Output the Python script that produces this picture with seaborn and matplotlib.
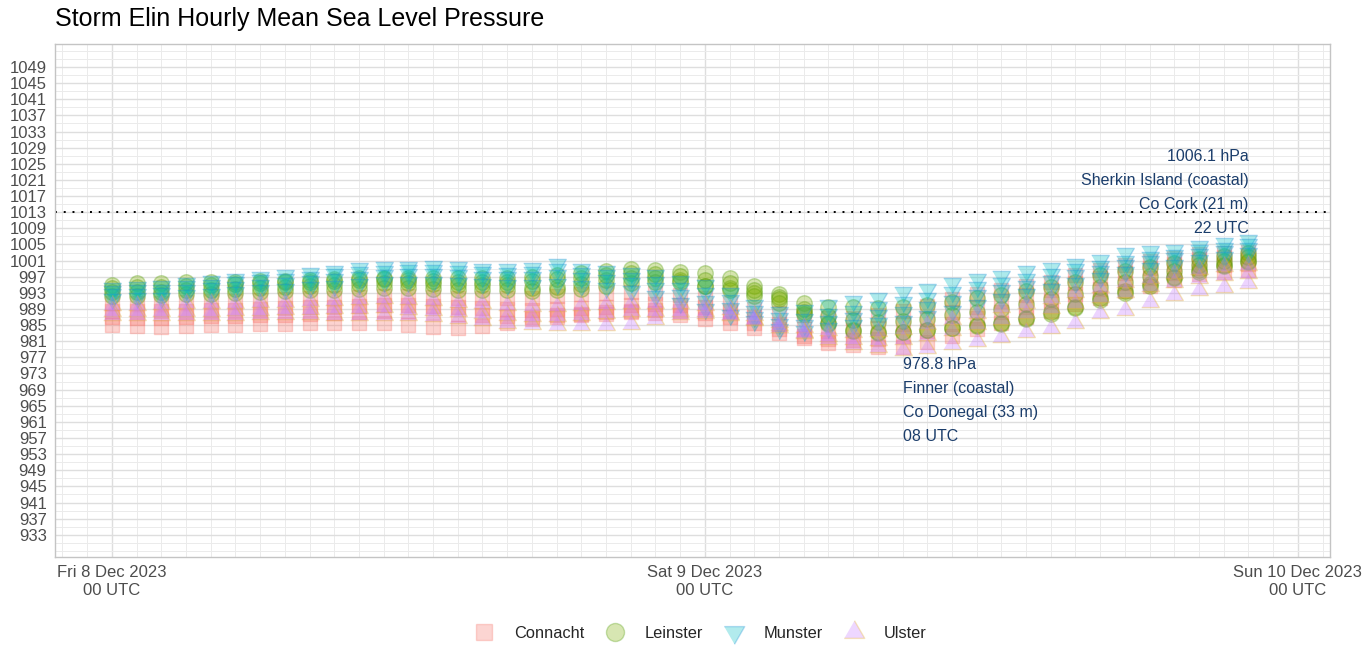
import numpy as np
import pandas as pd
import seaborn as sns
import matplotlib.pyplot as plt
from matplotlib.lines import Line2D

# Hourly readings: Fri 8 Dec 2023 00 UTC -> Sat 9 Dec 2023 22 UTC
hours = pd.date_range('2023-12-08 00:00', periods=47, freq='h')

# Mean sea level pressure (hPa), one list per station
# Connacht
mace_head = [990.5, 990.6, 990.6, 990.8, 991.0, 991.0, 991.2, 991.4, 991.6, 991.8, 992.0, 992.2,
             992.2, 992.0, 991.8, 991.6, 991.6, 991.8, 992.2, 992.6, 993.0, 993.2, 993.0, 992.4,
             991.8, 990.6, 989.0, 988.0, 987.6, 986.8, 986.8, 987.6, 988.4, 989.8, 991.4, 992.6,
             993.6, 994.6, 995.8, 997.4, 998.6, 999.8, 1000.8, 1001.6, 1002.6, 1003.0, 1003.2]
belmullet = [988.5, 988.4, 988.4, 988.6, 988.8, 988.8, 989.0, 989.2, 989.4, 989.6, 989.8, 990.0,
             990.0, 989.8, 989.6, 989.2, 989.0, 988.8, 989.0, 989.2, 989.6, 990.0, 990.2, 990.0,
             989.6, 988.4, 987.0, 985.2, 984.0, 983.6, 983.8, 984.4, 985.2, 986.6, 988.2, 989.6,
             991.0, 992.4, 993.8, 995.4, 996.8, 998.0, 999.2, 1000.2, 1001.4, 1002.0, 1002.2]
knock = [987.0, 986.8, 986.8, 987.0, 987.2, 987.2, 987.4, 987.6, 987.8, 988.0, 988.2, 988.4,
         988.4, 988.2, 987.8, 987.4, 987.2, 987.0, 987.4, 987.8, 988.2, 988.6, 988.8, 988.6,
         988.0, 987.0, 985.6, 984.0, 982.4, 981.6, 981.4, 981.6, 982.4, 983.6, 985.2, 986.8,
         988.2, 989.6, 991.0, 992.6, 994.0, 995.4, 996.6, 997.8, 999.2, 999.8, 1000.2]
athenry = [985.0, 984.8, 984.6, 984.8, 985.0, 985.0, 985.2, 985.2, 985.4, 985.4, 985.6, 985.6,
           985.0, 984.6, 984.4, 984.8, 985.6, 986.4, 987.0, 987.4, 987.8, 988.2, 988.0, 987.6,
           986.6, 985.4, 984.2, 983.0, 981.8, 980.6, 980.0, 979.6, 979.6, 980.8, 982.4, 984.0,
           985.6, 987.0, 988.6, 990.2, 991.8, 993.4, 994.8, 996.2, 997.6, 998.2, 998.6]
# Leinster
dublin = [995.0, 995.4, 995.5, 995.6, 995.6, 995.8, 996.0, 996.0, 996.2, 996.4, 996.6, 996.8,
          996.8, 996.8, 996.6, 996.6, 996.8, 997.0, 997.4, 997.8, 998.4, 999.0, 998.6, 998.2,
          997.8, 996.6, 994.6, 992.6, 990.4, 989.6, 989.4, 989.2, 989.6, 990.0, 990.8, 991.6,
          992.4, 993.4, 994.4, 995.8, 997.4, 998.4, 999.4, 1000.4, 1001.4, 1002.2, 1002.8]
casement = [993.2, 993.2, 993.2, 993.6, 993.8, 994.0, 994.2, 994.4, 994.6, 994.9, 995.2, 995.4,
            995.4, 995.2, 995.0, 995.0, 995.0, 994.2, 994.5, 995.2, 996.2, 996.6, 996.6, 996.2,
            994.6, 994.2, 993.0, 992.0, 988.2, 985.6, 983.6, 983.0, 983.2, 983.8, 984.4, 985.0,
            985.5, 986.8, 988.2, 989.6, 991.6, 993.4, 995.2, 997.0, 998.6, 1000.0, 1001.0]
oak_park = [992.2, 992.2, 992.4, 992.6, 992.8, 993.0, 993.2, 993.4, 993.6, 993.8, 994.0, 994.2,
            994.2, 994.0, 993.8, 993.8, 993.6, 993.4, 993.6, 994.0, 994.8, 995.4, 995.6, 995.6,
            994.8, 993.8, 992.2, 990.6, 987.8, 985.2, 983.8, 983.4, 983.4, 983.8, 984.2, 984.8,
            985.2, 986.4, 987.8, 989.2, 991.2, 993.0, 994.8, 996.6, 998.2, 999.6, 1000.6]
mullingar = [994.2, 994.4, 994.4, 994.8, 995.0, 995.2, 995.4, 995.6, 995.8, 996.0, 996.2, 996.4,
             996.2, 996.0, 995.8, 995.6, 995.8, 996.0, 996.4, 996.8, 997.4, 997.8, 997.6, 997.2,
             996.2, 995.4, 993.6, 991.4, 989.0, 987.2, 986.2, 985.8, 986.0, 986.6, 987.4, 988.2,
             989.0, 990.2, 991.4, 992.8, 994.4, 995.8, 997.2, 998.4, 999.8, 1001.0, 1001.8]
# Munster
sherkin = [994.2, 994.5, 994.6, 995.5, 996.0, 996.5, 997.0, 997.5, 998.0, 998.5, 999.2, 999.5,
           999.5, 999.6, 999.3, 999.0, 999.0, 999.2, 1000.2, 999.0, 998.4, 998.0, 997.3, 996.0,
           995.0, 993.0, 990.0, 988.3, 988.8, 990.0, 991.0, 991.8, 993.2, 994.0, 995.5, 996.5,
           997.2, 998.4, 999.2, 1000.2, 1001.2, 1002.8, 1003.4, 1003.7, 1004.6, 1005.3, 1006.1]
roches_point = [993.5, 993.6, 993.8, 994.6, 995.0, 995.6, 996.1, 996.5, 997.0, 997.6, 998.2, 998.5,
                998.6, 998.7, 998.4, 998.1, 998.0, 998.2, 998.8, 998.0, 997.4, 996.8, 995.8, 994.2,
                993.0, 991.2, 988.6, 986.8, 986.5, 987.8, 988.6, 989.5, 990.7, 991.8, 993.2, 994.4,
                995.4, 996.5, 997.6, 998.8, 999.6, 1001.0, 1002.0, 1002.5, 1003.5, 1004.2, 1005.0]
valentia = [992.6, 992.8, 993.0, 993.6, 994.1, 994.5, 995.0, 995.4, 996.0, 996.4, 997.0, 997.4,
            997.6, 997.6, 997.3, 997.0, 996.9, 997.0, 997.4, 996.8, 996.2, 995.4, 994.2, 992.5,
            991.0, 989.2, 987.0, 985.2, 985.0, 986.0, 986.8, 987.6, 988.3, 989.6, 991.0, 992.4,
            993.6, 994.8, 996.0, 997.4, 998.5, 999.8, 1000.8, 1001.6, 1002.6, 1003.4, 1004.2]
shannon = [991.5, 991.6, 991.8, 992.4, 992.8, 993.2, 993.6, 994.0, 994.4, 994.8, 995.3, 995.6,
           995.8, 995.8, 995.5, 995.2, 995.0, 995.0, 995.3, 994.8, 994.2, 993.4, 992.2, 990.4,
           989.0, 987.5, 986.0, 984.0, 983.6, 984.2, 985.0, 985.6, 986.0, 987.2, 988.6, 990.0,
           991.4, 992.8, 994.0, 995.4, 996.8, 998.2, 999.2, 1000.0, 1001.2, 1002.0, 1003.0]
# Ulster
malin_head = [990.0, 990.0, 990.2, 990.4, 990.6, 990.6, 990.8, 990.8, 991.0, 991.2, 991.4, 991.6,
              991.4, 991.2, 990.8, 990.4, 990.0, 989.8, 989.8, 990.0, 990.2, 990.4, 990.6, 990.4,
              990.0, 989.0, 987.6, 985.8, 984.6, 983.8, 983.4, 983.6, 984.0, 985.2, 986.6, 988.0,
              989.4, 990.6, 991.8, 993.2, 994.4, 995.6, 996.8, 997.8, 999.0, 999.6, 1000.0]
ballyhaise = [988.6, 988.4, 988.4, 988.6, 988.6, 988.8, 988.8, 989.0, 989.0, 989.2, 989.2, 989.4,
              989.0, 988.8, 988.4, 988.0, 987.6, 987.2, 987.2, 987.6, 988.0, 988.4, 988.6, 988.6,
              988.4, 987.8, 986.6, 985.0, 983.4, 982.2, 981.6, 981.4, 981.6, 982.6, 983.8, 985.2,
              986.6, 988.0, 989.2, 990.6, 992.0, 993.2, 994.6, 995.8, 996.8, 997.4, 997.8]
finner = [987.6, 987.4, 987.4, 987.6, 987.6, 987.6, 987.8, 987.8, 987.8, 987.6, 987.6, 987.6,
          987.4, 987.2, 986.8, 986.2, 985.6, 985.2, 985.0, 985.0, 985.0, 985.2, 986.6, 987.8,
          988.0, 987.6, 986.2, 984.6, 983.0, 981.6, 980.4, 979.6, 978.8, 979.4, 980.2, 981.0,
          982.0, 983.4, 984.3, 985.5, 988.0, 988.8, 990.7, 992.4, 993.7, 994.5, 995.5]

stations = {
    'Connacht': {'Mace Head': mace_head, 'Belmullet': belmullet, 'Knock Airport': knock, 'Athenry': athenry},
    'Leinster': {'Dublin Airport': dublin, 'Casement': casement, 'Oak Park': oak_park, 'Mullingar': mullingar},
    'Munster': {'Sherkin Island': sherkin, 'Roches Point': roches_point, 'Valentia': valentia, 'Shannon Airport': shannon},
    'Ulster': {'Malin Head': malin_head, 'Ballyhaise': ballyhaise, 'Finner': finner},
}
# station type, county and height for the annotated extremes
station_info = {'Sherkin Island': ('coastal', 'Co Cork', 21), 'Finner': ('coastal', 'Co Donegal', 33)}

df = pd.concat([pd.DataFrame({'time': hours, 'pressure': vals, 'station': name, 'province': prov})
                for prov, stns in stations.items() for name, vals in stns.items()], ignore_index=True)

fills = {'Connacht': '#F8766D', 'Leinster': '#7CAE00', 'Munster': '#00BFC4', 'Ulster': '#C77CFF'}
edges = {'Connacht': '#F8766D', 'Leinster': '#4E9A06', 'Munster': '#1C8FD6', 'Ulster': '#E8B420'}
tri_down = [(-1, 0.577), (1, 0.577), (0, -1.155)]
tri_up = [(-1, -0.577), (1, -0.577), (0, 1.155)]
markers = {'Connacht': 's', 'Leinster': 'o', 'Munster': tri_down, 'Ulster': tri_up}
sizes = {'Connacht': 100, 'Leinster': 125, 'Munster': 215, 'Ulster': 215}

sns.set_style('white')
plt.rcParams['font.family'] = ['Liberation Sans', 'DejaVu Sans']

fig = plt.figure(figsize=(13.62, 6.46), dpi=100)
ax = fig.add_axes([55 / 1362, 1 - 557 / 646, 1275 / 1362, 513 / 646])

for prov in stations:
    sns.scatterplot(data=df[df.province == prov], x='time', y='pressure', ax=ax,
                    marker=markers[prov], s=sizes[prov], color=fills[prov],
                    edgecolor=edges[prov], linewidth=1, alpha=0.32, legend=False, zorder=3)

ax.axhline(1013, color='black', ls=(0, (1, 3.5)), lw=1.4, zorder=2)

# Annotations for highest and lowest readings
navy = '#1B3D6B'
hi = df.loc[df.pressure.idxmax()]
lo = df.loc[df.pressure.idxmin()]
for row, ha, va, dy in [(hi, 'right', 'bottom', 1.0), (lo, 'left', 'top', -1.6)]:
    kind, county, height = station_info[row.station]
    txt = f'{row.pressure:.1f} hPa\n{row.station} ({kind})\n{county} ({height} m)\n{row.time:%H} UTC'
    ax.text(row.time, row.pressure + dy, txt, ha=ha, va=va, color=navy, fontsize=11.5,
            linespacing=1.75, zorder=4)

# Axes
days = pd.to_datetime(['2023-12-08', '2023-12-09', '2023-12-10'])
day_labels = ['Fri 8 Dec 2023\n00 UTC', 'Sat 9 Dec 2023\n00 UTC', 'Sun 10 Dec 2023\n00 UTC']
ax.set_xticks(days)
ax.set_xticklabels(day_labels)
ax.set_xticks(pd.date_range('2023-12-07 22:00', '2023-12-10 01:00', freq='h'), minor=True)
ax.set_xlim(hours[0] - pd.Timedelta(hours=2.3), hours[0] + pd.Timedelta(hours=49.3))

ax.set_yticks(np.arange(933, 1050, 4))
ax.set_yticks(np.arange(929, 1055, 2), minor=True)
ax.set_ylim(927.5, 1054.7)
ax.set_xlabel('')
ax.set_ylabel('')

ax.tick_params(which='major', length=4, color='#b3b3b3', labelcolor='#4d4d4d', labelsize=12, pad=2)
ax.tick_params(which='minor', length=0)
ax.grid(which='major', color='#dedede', lw=1.0)
ax.grid(which='minor', color='#ebebeb', lw=0.7)
ax.set_axisbelow(True)
for sp in ax.spines.values():
    sp.set_color('#c4c4c4')
    sp.set_linewidth(1)

fig.text(55 / 1362, 1 - 19 / 646, 'Storm Elin Hourly Mean Sea Level Pressure', fontsize=18,
         va='center', ha='left', color='black')

handles = [Line2D([], [], ls='none', marker=markers[p], markersize=ms, markerfacecolor=fills[p],
                  markeredgecolor=edges[p], alpha=0.3, label=p)
           for p, ms in zip(stations, [12, 13, 17, 17])]
fig.legend(handles=handles, loc='center', bbox_to_anchor=(700 / 1362, 1 - 633 / 646), ncol=4,
           frameon=False, fontsize=11.8, handlelength=1.3, handletextpad=1.2, columnspacing=1.2)

fig.savefig('out.png', dpi=100)
